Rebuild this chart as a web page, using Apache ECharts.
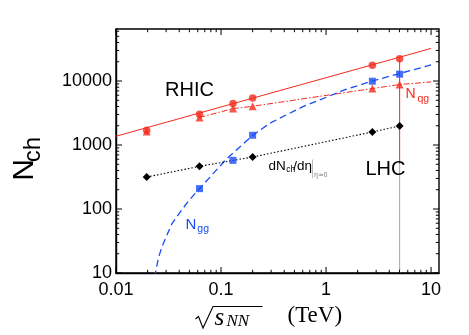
<!DOCTYPE html>
<html><head><meta charset="utf-8">
<script src="https://cdn.jsdelivr.net/npm/echarts@6/dist/echarts.min.js"></script>
<style>html,body{margin:0;padding:0;background:#fff}#c{width:469px;height:335px}</style>
</head><body><div id="c"></div>
<script>
// ---- data ----
const circleEnergies = [0.0196, 0.0624, 0.13, 0.2, 2.76, 5.02];
const circleValues   = [1700, 3020, 4450, 5440, 17700, 22200];
const triEnergies    = [0.0196, 0.0624, 0.13, 0.2, 2.76, 5.02];
const triValues      = [1620, 2690, 3710, 4030, 7630, 8820];
const squareEnergies = [0.0624, 0.13, 0.2, 2.76, 5.02];
const squareValues   = [208, 576, 1420, 9930, 12800];
const diamondEnergies = [0.0196, 0.0624, 0.2, 2.76, 5.02];
const diamondValues   = [316, 464, 649, 1600, 1980];
const fitX = [0.01, 10];
const fitY = [1370, 32300];
const nqgCurveX = [0.0624, 0.13, 0.2, 2.76, 5.02, 10];
const nqgCurveY = [2690, 3710, 4030, 7630, 8820, 9680];
const nggCurveX = [0.02326, 0.0254, 0.02773, 0.034, 0.04178, 0.051, 0.0624, 0.1116, 0.1995, 0.2897, 0.4178, 0.6012, 0.867, 1.544, 2.76, 5.02, 10];
const nggCurveY = [8.53, 17.5, 27.0, 58.5, 94.7, 144, 208, 595, 1408, 2178, 2948, 3976, 5060, 7386, 10000, 13100, 17800];
const lhcX = 5.02;
const lhcRedY = [22200, 500];
const lhcPinkY = [500, 10];
const xMajorTicks = [0.01, 0.1, 1, 10];
const xMinorTicks = [0.02,0.03,0.04,0.05,0.06,0.07,0.08,0.09, 0.2,0.3,0.4,0.5,0.6,0.7,0.8,0.9, 2,3,4,5,6,7,8,9];
const yMajorTicks = [10, 100, 1000, 10000];
const yMinorTicks = [20,30,40,50,60,70,80,90, 200,300,400,500,600,700,800,900, 2000,3000,4000,5000,6000,7000,8000,9000, 20000,30000,40000,50000,60000];
const X_MIN = 0.01, X_MAX = 11.9, Y_MIN = 10, Y_MAX = 65000;

const RED = '#f42b1c', BLUE = '#1a4cf5', PINK = '#d88c8c';
const zip = (a, b) => a.map((v, i) => [v, b[i]]);

const chart = echarts.init(document.getElementById('c'), null, {renderer: 'canvas'});

function xTickItem(params, api) {
  const v = api.value(0), len = api.value(2) ? 3.2 : 6;
  const pb = api.coord([v, Y_MIN]), pt = api.coord([v, Y_MAX]);
  const st = {stroke: '#000', lineWidth: 1};
  return {type: 'group', children: [
    {type: 'line', shape: {x1: pb[0], y1: pb[1], x2: pb[0], y2: pb[1] - len}, style: st},
    {type: 'line', shape: {x1: pt[0], y1: pt[1], x2: pt[0], y2: pt[1] + len}, style: st}
  ]};
}
function yTickItem(params, api) {
  const v = api.value(1), len = api.value(2) ? 3.2 : 6;
  const pl = api.coord([X_MIN, v]), pr = api.coord([X_MAX, v]);
  const st = {stroke: '#000', lineWidth: 1};
  return {type: 'group', children: [
    {type: 'line', shape: {x1: pl[0], y1: pl[1], x2: pl[0] + len, y2: pl[1]}, style: st},
    {type: 'line', shape: {x1: pr[0], y1: pr[1], x2: pr[0] - len, y2: pr[1]}, style: st}
  ]};
}
const xTickData = xMajorTicks.map(v => [v, Y_MIN, 0]).concat(xMinorTicks.map(v => [v, Y_MIN, 1]));
const yTickData = yMajorTicks.map(v => [X_MIN, v, 0]).concat(yMinorTicks.map(v => [X_MIN, v, 1]));

const F = 'Liberation Sans, Arial, Helvetica, sans-serif';
const SERIF = 'Liberation Serif, Times New Roman, serif';
function txt(text, x, y, size, color, opts) {
  return Object.assign({type: 'text', x: x, y: y, z: 100, style: Object.assign({
    text: text, fill: color || '#000', font: size + 'px ' + F, align: 'left', verticalAlign: 'middle'}, opts || {})});
}

chart.setOption({
  animation: false,
  backgroundColor: '#fff',
  grid: {left: 116, right: 30, top: 29, bottom: 62, show: true, borderColor: '#000', borderWidth: 1.4, backgroundColor: 'transparent'},
  xAxis: {
    type: 'log', logBase: 10, min: X_MIN, max: X_MAX,
    axisLine: {show: true, lineStyle: {color: '#000', width: 1.4}},
    axisTick: {show: false}, splitLine: {show: false}, minorTick: {show: false},
    axisLabel: {color: '#000', fontSize: 18, fontFamily: F, margin: 8, showMinLabel: true, showMaxLabel: false,
      formatter: v => String(+(+v).toPrecision(3))}
  },
  yAxis: {
    type: 'log', logBase: 10, min: Y_MIN, max: Y_MAX,
    axisLine: {show: true, lineStyle: {color: '#000', width: 1.4}},
    axisTick: {show: false}, splitLine: {show: false}, minorTick: {show: false},
    axisLabel: {color: '#000', fontSize: 18, fontFamily: F, margin: 4, showMinLabel: true, showMaxLabel: false,
      formatter: v => String(Math.round(v))}
  },
  series: [
    {type: 'custom', renderItem: xTickItem, data: xTickData, encode: {x: 0, y: 1}, clip: false, silent: true, z: 5},
    {type: 'custom', renderItem: yTickItem, data: yTickData, encode: {x: 0, y: 1}, clip: false, silent: true, z: 5},
    {type: 'line', data: zip([lhcX, lhcX], lhcPinkY), symbol: 'none', lineStyle: {color: PINK, width: 1}, z: 2},
    {type: 'line', data: zip([lhcX, lhcX], lhcRedY), symbol: 'none', lineStyle: {color: RED, width: 1}, z: 2},
    {type: 'line', data: zip(fitX, fitY), symbol: 'none', lineStyle: {color: RED, width: 1}, z: 3},
    {type: 'line', data: zip(nqgCurveX, nqgCurveY), symbol: 'none', lineStyle: {color: RED, width: 1, type: [6, 2, 1.5, 2]}, z: 3},
    {type: 'line', data: zip(nggCurveX, nggCurveY), symbol: 'none', lineStyle: {color: BLUE, width: 1.3, type: [7, 4]}, z: 3},
    {type: 'line', data: zip(diamondEnergies, diamondValues), symbol: 'diamond', symbolSize: [8, 8], itemStyle: {color: '#000'},
      lineStyle: {color: '#000', width: 1.1, type: [1.5, 2]}, z: 4},
    {type: 'scatter', data: zip(triEnergies, triValues), symbol: 'triangle', symbolSize: 8, itemStyle: {color: RED}, z: 4},
    {type: 'scatter', data: zip(circleEnergies, circleValues), symbol: 'circle', symbolSize: 7.5, itemStyle: {color: RED}, z: 4},
    {type: 'scatter', data: zip(squareEnergies, squareValues), symbol: 'rect', symbolSize: 7, itemStyle: {color: BLUE}, z: 4}
  ],
  graphic: [
    txt('RHIC', 165, 90, 20, '#000'),
    txt('LHC', 365.5, 169.5, 20, '#000'),
    txt('N', 405.5, 94, 14, RED),
    txt('qg', 417.5, 99.5, 10.5, RED),
    txt('N', 185.5, 224.7, 15, BLUE),
    txt('gg', 197.3, 229.5, 10.5, BLUE),
    txt('dN', 268.5, 166, 13.5, '#000'),
    txt('ch', 286.3, 169.8, 8.5, '#000'),
    txt('/dη', 293.3, 166, 13.5, '#000'),
    {type: 'line', z: 100, shape: {x1: 312.5, y1: 159.5, x2: 312.5, y2: 178}, style: {stroke: '#aaa', lineWidth: 0.8}},
    txt('η≃0', 314.2, 175, 6.5, '#777'),
    // y-axis title
    {type: 'text', x: 24.5, y: 170, rotation: Math.PI / 2, z: 100,
      style: {text: 'N', font: '30px ' + F, fill: '#000', align: 'center', verticalAlign: 'middle'}},
    {type: 'text', x: 33.5, y: 149.5, rotation: Math.PI / 2, z: 100,
      style: {text: 'ch', font: '24px ' + F, fill: '#000', align: 'center', verticalAlign: 'middle'}},
    // x-axis title: sqrt(s_NN)  (TeV)
    {type: 'polyline', z: 100, shape: {points: [[195.5, 319], [198.5, 316.5], [203, 328], [213, 306.5], [262.5, 306.5]]},
      style: {stroke: '#000', lineWidth: 1.1, fill: null}},
    {type: 'text', x: 214.5, y: 318, z: 100, style: {text: 's', font: 'italic 25px ' + SERIF, fill: '#000', align: 'left', verticalAlign: 'middle'}},
    {type: 'text', x: 226.5, y: 322, z: 100, style: {text: 'NN', font: 'italic 17px ' + SERIF, fill: '#000', align: 'left', verticalAlign: 'middle'}},
    {type: 'text', x: 287.5, y: 316, z: 100, style: {text: '(TeV)', font: '23px ' + SERIF, fill: '#000', align: 'left', verticalAlign: 'middle'}}
  ]
});
</script></body></html>
